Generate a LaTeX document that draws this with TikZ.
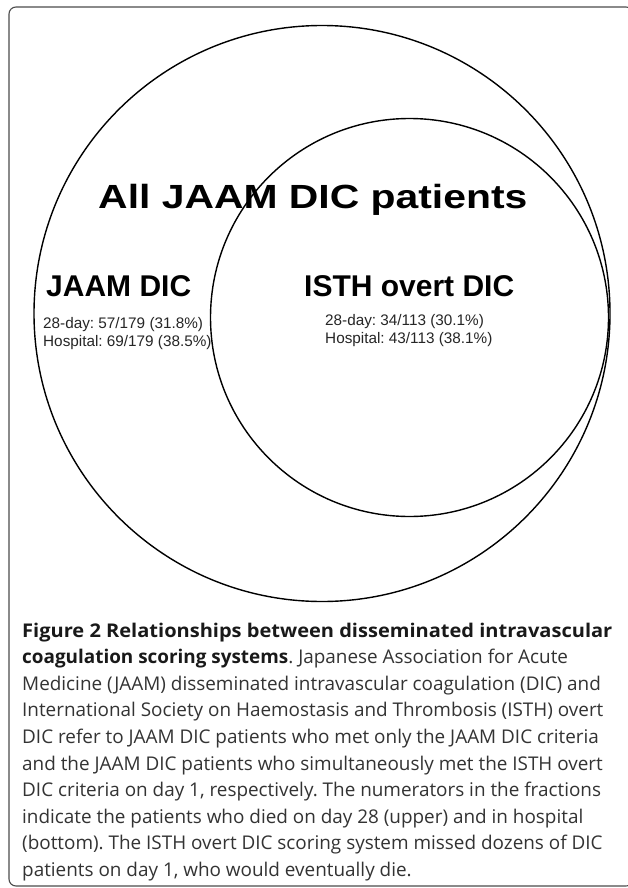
\documentclass[tikz,border=0pt]{standalone}
\usepackage{fontspec}
\setmainfont{Liberation Sans}
\newfontfamily\capfont{Open Sans}
\frenchspacing
\begin{document}
\begin{tikzpicture}[x=1pt,y=-1pt,
  ring/.style={draw=black,line width=1.4pt},
  frame/.style={draw=black!70,line width=1.1pt,rounded corners=7pt},
  titlelabel/.style={anchor=base west,inner sep=0pt,font=\fontsize{33.5}{40}\selectfont\bfseries},
  biglabel/.style={anchor=base west,inner sep=0pt,font=\fontsize{30}{36}\selectfont\bfseries},
  stat/.style={anchor=base west,inner sep=0pt,text=black!85,font=\fontsize{15.3}{18}\selectfont},
  capline/.style={anchor=base west,inner sep=0pt,text=black!80,font=\capfont\fontsize{18.9}{26}\selectfont\frenchspacing}]
\useasboundingbox (0,0) rectangle (627,888);
\fill[white] (0,0) rectangle (627,888);
\draw[frame] (9,7) rectangle (633,886);
% circles
\coordinate (cbig) at (322,313.5);
\coordinate (csmall) at (409.5,317.5);
\draw[ring] (cbig) circle[radius=288pt];
\draw[ring] (csmall) circle[radius=199pt];
% labels
\node[titlelabel,xscale=1.22] (all) at (98,208) {All JAAM DIC patients};
\node[biglabel] (jaam) at (46,296) {JAAM DIC};
\node[biglabel] (isth) at (304,296) {ISTH overt DIC};
\node[stat] (j1) at (43,328) {28-day: 57/179 (31.8\%)};
\node[stat] (j2) at (43,346) {Hospital: 69/179 (38.5\%)};
\node[stat] (i1) at (325,325) {28-day: 34/113 (30.1\%)};
\node[stat] (i2) at (325,343) {Hospital: 43/113 (38.1\%)};
% caption
\node[capline,text=black!90,xscale=1.06] (c1) at (22,637) {\bfseries Figure 2 Relationships between disseminated intravascular};
\node[capline] (c2) at (22,663.6) {{\bfseries\color{black!90}coagulation scoring systems}. Japanese Association for Acute};
\node[capline] (c3) at (22,690.2) {Medicine (JAAM) disseminated intravascular coagulation (DIC) and};
\node[capline] (c4) at (22,716.8) {International Society on Haemostasis and Thrombosis (ISTH) overt};
\node[capline] (c5) at (22,743.4) {DIC refer to JAAM DIC patients who met only the JAAM DIC criteria};
\node[capline] (c6) at (22,770) {and the JAAM DIC patients who simultaneously met the ISTH overt};
\node[capline] (c7) at (22,796.6) {DIC criteria on day 1, respectively. The numerators in the fractions};
\node[capline] (c8) at (22,823.2) {indicate the patients who died on day 28 (upper) and in hospital};
\node[capline] (c9) at (22,849.8) {(bottom). The ISTH overt DIC scoring system missed dozens of DIC};
\node[capline] (c10) at (22,876.4) {patients on day 1, who would eventually die.};
\end{tikzpicture}
\end{document}
